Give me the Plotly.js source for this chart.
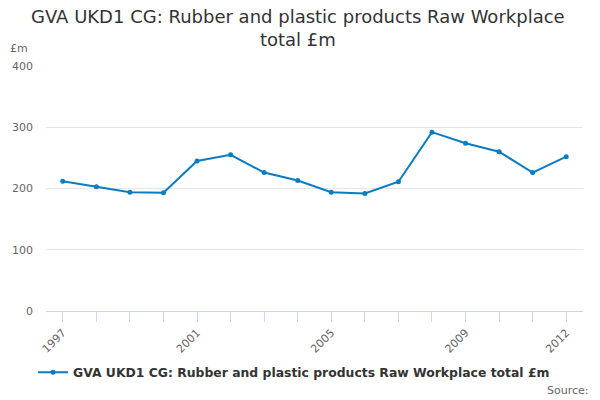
<!DOCTYPE html>
<html>
<head>
<meta charset="utf-8">
<script src="https://cdn.plot.ly/plotly-3.0.1.min.js"></script>
<style>html,body{margin:0;padding:0;background:#fff;}#chart{width:600px;height:400px;}</style>
</head>
<body>
<div id="chart"></div>
<script>
var years = [1997,1998,1999,2000,2001,2002,2003,2004,2005,2006,2007,2008,2009,2010,2011,2012];
var values = [212,203,194,193,245,255,226,213,194,192,211,292,274,260,226,252];
var labelledYears = [1997,2001,2005,2009,2012];
var seriesName = "GVA UKD1 CG: Rubber and plastic products Raw Workplace total £m";
var titleText = "GVA UKD1 CG: Rubber and plastic products Raw Workplace<br>total £m";
var yTicks = [0,100,200,300,400];

var font = "DejaVu Sans, sans-serif";
var trace = {
  x: years, y: values, type: 'scatter', mode: 'lines+markers',
  name: '<b>' + seriesName + '</b>',
  line: {color: '#0a7cc1', width: 2},
  marker: {color: '#0a7cc1', size: 5}
};
var layout = {
  width: 600, height: 400,
  margin: {l: 46, r: 17, t: 66, b: 89},
  paper_bgcolor: '#fff', plot_bgcolor: '#fff',
  font: {family: font, color: '#666'},
  xaxis: {
    range: [1996.5, 2012.5],
    tickvals: years,
    ticktext: years.map(function(y){ return labelledYears.indexOf(y) >= 0 ? String(y) : ''; }),
    tickangle: -45,
    ticks: 'outside', ticklen: 10, tickcolor: '#ccd6eb', tickwidth: 1,
    showline: true, linecolor: '#ccd6eb', linewidth: 1,
    showgrid: false, zeroline: false,
    tickfont: {family: font, size: 11, color: '#666'}
  },
  yaxis: {
    range: [0, 400], tickvals: yTicks,
    showgrid: true, gridcolor: '#e6e6e6', gridwidth: 1,
    zeroline: false, showline: false, ticks: '',
    ticklabelstandoff: 12,
    tickfont: {family: font, size: 11, color: '#666'}
  },
  showlegend: true,
  legend: {orientation: 'h', x: 0.49, xanchor: 'center', xref: 'container', y: 0.068, yref: 'container', yanchor: 'middle',
           bgcolor: 'rgba(0,0,0,0)',
           font: {family: font, size: 12.4, color: '#333'}},
  annotations: [
    {text: titleText, xref: 'paper', yref: 'paper', x: 0.47, y: 1.253, xanchor: 'center', yanchor: 'top', showarrow: false,
     font: {family: font, size: 18, color: '#333'}},
    {text: '£m', xref: 'paper', yref: 'paper', x: -0.07, y: 1.035, xanchor: 'left', yanchor: 'bottom', showarrow: false,
     font: {family: font, size: 11, color: '#666'}},
    {text: 'Source:', xref: 'paper', yref: 'paper', x: 1.015, y: -0.325, xanchor: 'right', yanchor: 'middle', showarrow: false,
     font: {family: font, size: 11, color: '#666'}}
  ]
};
Plotly.newPlot('chart', [trace], layout, {displayModeBar: false, staticPlot: true});
</script>
</body>
</html>
